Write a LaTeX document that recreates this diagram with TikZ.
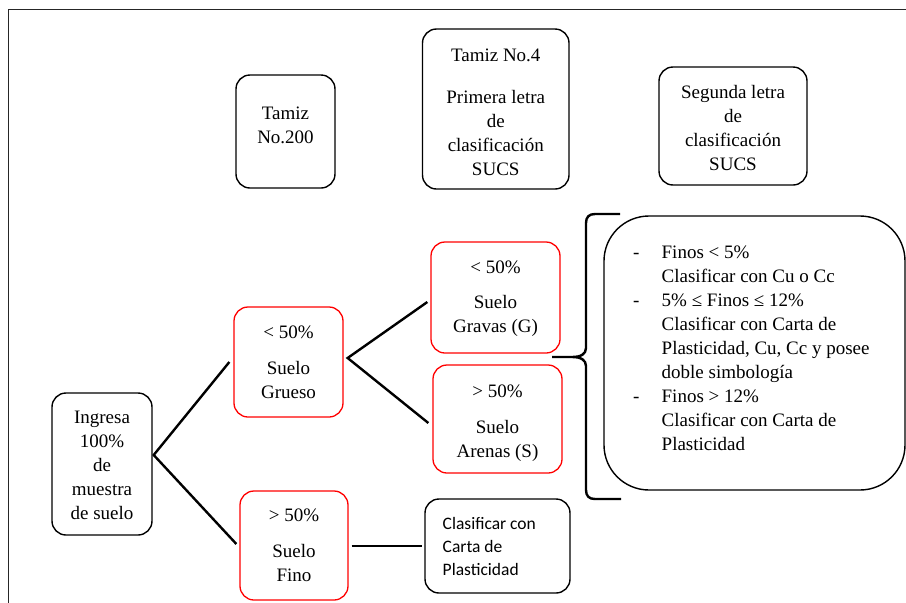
\documentclass[tikz,border=0pt]{standalone}
\usepackage{fontspec}
\setmainfont{Liberation Serif}
\newfontfamily\calibfont{Carlito}
\usetikzlibrary{calc}
% stacked, centred lines whose reference point is the first baseline
\newcommand{\stackc}[1]{\begin{tabular}[t]{@{}c@{}}#1\end{tabular}}
\newcommand{\stackl}[1]{\begin{tabular}[t]{@{}l@{}}#1\end{tabular}}
\begin{document}
\begin{tikzpicture}[x=1pt,y=-1pt,
  box/.style={draw=black, line width=1.4pt, rounded corners=14pt, inner sep=0pt},
  redbox/.style={draw=red, line width=1.3pt, rounded corners=14pt, inner sep=0pt},
  txt/.style={inner sep=0pt, anchor=base, font=\fontsize{19}{24}\selectfont},
  link/.style={line width=2.4pt},
]
\useasboundingbox (0,0) rectangle (906,603);

% page frame
\draw[line width=0.9pt, black!85] (8,603) -- (8,9) -- (906,9);

% header boxes
\node[box, minimum width=99pt, minimum height=113pt] (t200) at (285.5,131.5) {};
\node[txt] (t200txt) at (285.5,119) {\stackc{Tamiz\\No.200}};

\node[box, minimum width=146.5pt, minimum height=160pt] (t4) at (495.75,109) {};
\node[txt] (t4txt) at (495.75,61) {\stackc{Tamiz No.4\\[18pt]Primera letra\\de\\clasificación\\SUCS}};

\node[box, minimum width=148pt, minimum height=118pt] (seg) at (733,126) {};
\node[txt] (segtxt) at (733,98) {\stackc{Segunda letra\\de\\clasificación\\SUCS}};

% starting box
\node[box, minimum width=100pt, minimum height=142pt] (ing) at (102,464) {};
\node[txt] (ingtxt) at (102,423.5) {\stackc{Ingresa\\100\%\\de\\muestra\\de suelo}};

% coarse / fine split
\node[redbox, minimum width=109pt, minimum height=110pt] (gru) at (288.5,362) {};
\node[txt] (grutxt) at (288.5,338) {\stackc{< 50\%\\[12pt]Suelo\\Grueso}};

\node[redbox, minimum width=108pt, minimum height=109pt] (fino) at (294,545.5) {};
\node[txt] (finotxt) at (294,521) {\stackc{> 50\%\\[12.5pt]Suelo\\Fino}};

% gravel / sand split
\node[redbox, minimum width=129pt, minimum height=111pt] (grav) at (495.5,297.5) {};
\node[txt] (gravtxt) at (495.5,273) {\stackc{< 50\%\\[11pt]Suelo\\Gravas (G)}};

\node[redbox, minimum width=129pt, minimum height=108pt] (aren) at (497.5,419) {};
\node[txt] (arentxt) at (497.5,397) {\stackc{> 50\%\\[12pt]Suelo\\Arenas (S)}};

% fine soil outcome
\node[box, minimum width=145pt, minimum height=94pt] (clas) at (497.5,546) {};
\node[inner sep=0pt, anchor=base west, font=\calibfont\fontsize{17.5}{23.3}\selectfont] (clastxt) at (442.5,529)
  {\stackl{Clasificar con\\Carta de\\Plasticidad}};

% coarse soil notes
\node[box, rounded corners=45pt, minimum width=301pt, minimum height=274pt] (notes) at (754.5,353) {};
\node[inner sep=0pt, anchor=base west, font=\fontsize{19}{24}\selectfont] (notestxt) at (633,258)
  {\begin{tabular}[t]{@{}p{28.5pt}@{}l@{}}
   - & Finos < 5\% \\
     & Clasificar con Cu o Cc \\
   - & 5\% ≤ Finos ≤ 12\% \\
     & Clasificar con Carta de \\
     & Plasticidad, Cu, Cc y posee \\
     & doble simbología \\
   - & Finos > 12\% \\
     & Clasificar con Carta de \\
     & Plasticidad
   \end{tabular}};

% connectors
\coordinate (ingout) at ($(ing.east)+(1,-9)$);
\draw[link] ($(gru.west)+(-4,0)$) -- (ingout) -- ($(fino.west)+(-3,-1.5)$);
\coordinate (gruout) at ($(gru.east)+(4,-4)$);
\draw[link] ($(grav.west)+(-3,4.5)$) -- (gruout) -- ($(aren.west)+(-4,4)$);
\draw[link] ($(fino.east)+(3,0.5)$) -- ($(clas.west)+(-2,0)$);

% brace grouping the gravel and sand boxes
\coordinate (bracetip) at (552,357);
\draw[line width=2.4pt]
  (620,214) -- (595,214) .. controls (589,214) and (586,217) .. (586,223)
  -- (586,348) .. controls (586,354) and (581,357) .. (572,357) -- (bracetip)
  (572,357) .. controls (581,357) and (586,360) .. (586,366)
  -- (586,490) .. controls (586,496) and (589,499) .. (595,499) -- (621,499);
\end{tikzpicture}
\end{document}
